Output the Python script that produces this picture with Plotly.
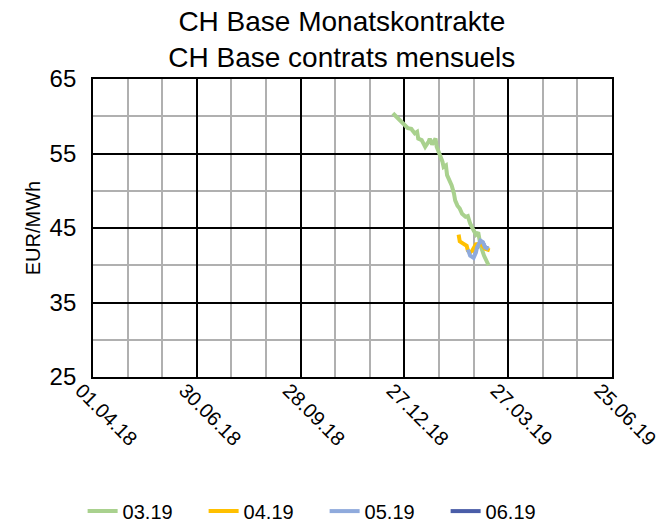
import plotly.graph_objects as go

# ---- data ----
dates_0319 = ["2018-12-17", "2018-12-22", "2018-12-26", "2018-12-30", "2019-01-02", "2019-01-05",
              "2019-01-07", "2019-01-08", "2019-01-11", "2019-01-14", "2019-01-17", "2019-01-18",
              "2019-01-20", "2019-01-23", "2019-01-24", "2019-01-27", "2019-01-29", "2019-01-30",
              "2019-02-01", "2019-02-02", "2019-02-05", "2019-02-06", "2019-02-08", "2019-02-09",
              "2019-02-11", "2019-02-13", "2019-02-15", "2019-02-18", "2019-02-20", "2019-02-22",
              "2019-02-25", "2019-02-27", "2019-03-01", "2019-03-03", "2019-03-06", "2019-03-10"]
vals_0319 = [60.4, 59.7, 59.0, 58.4, 58.3, 57.7,
             57.9, 57.0, 56.8, 55.9, 56.6, 57.0,
             56.2, 57.0, 55.9, 54.8, 53.9, 53.2,
             53.4, 52.1, 51.0, 50.7, 49.6, 48.7,
             48.0, 47.6, 46.9, 46.5, 46.6, 45.6,
             44.7, 44.1, 44.4, 42.7, 41.3, 40.0]

dates_0419 = ["2019-02-12", "2019-02-13", "2019-02-16", "2019-02-19", "2019-02-20", "2019-02-22",
              "2019-02-24", "2019-02-27", "2019-03-03", "2019-03-07", "2019-03-11"]
vals_0419 = [44.1, 43.2, 42.9, 42.6, 42.0, 41.7, 42.0, 42.8, 42.9, 42.2, 42.0]

dates_0519 = ["2019-02-20", "2019-02-22", "2019-02-25", "2019-02-27", "2019-02-28", "2019-03-03",
              "2019-03-05", "2019-03-07", "2019-03-10"]
vals_0519 = [42.1, 41.3, 41.0, 41.7, 42.4, 43.3, 43.1, 42.4, 42.2]

dates_0619 = ["2019-02-28", "2019-03-03", "2019-03-05", "2019-03-07", "2019-03-10"]
vals_0619 = [42.3, 43.2, 43.0, 42.4, 42.2]

series_names = ["03.19", "04.19", "05.19", "06.19"]
series_colors = ["#A9D18E", "#FFC000", "#8FAADC", "#4A5DA8"]

x_start = "2018-04-01"
x_end = "2019-06-25"
DAY_MS = 86400000

FONT = "Liberation Sans, Arial, sans-serif"

fig = go.Figure()
data = [(dates_0319, vals_0319), (dates_0419, vals_0419), (dates_0519, vals_0519), (dates_0619, vals_0619)]
draw_order = [3, 0, 1, 2]
for i in draw_order:
    d, v = data[i]
    fig.add_trace(go.Scatter(x=d, y=v, mode="lines", name=series_names[i],
                             line=dict(color=series_colors[i], width=4),
                             legendrank=i + 1))

fig.update_layout(
    width=665, height=525,
    margin=dict(l=93, r=53, t=79, b=148, autoexpand=False),
    paper_bgcolor="white", plot_bgcolor="white",
    font=dict(family=FONT, color="#000000", size=20),
    title=dict(text="CH Base Monatskontrakte<br>CH Base contrats mensuels",
               x=0.514, xanchor="center", y=0.941, yanchor="middle",
               font=dict(size=28, family=FONT, color="#000000")),
    showlegend=True,
    legend=dict(orientation="h", x=-0.02, xanchor="left", y=-0.45, yanchor="middle",
                entrywidth=76, entrywidthmode="pixels",
                font=dict(size=20, family=FONT), traceorder="normal"),
)

fig.update_xaxes(
    type="date", range=[x_start, x_end], automargin=False,
    tick0=x_start, dtick=90 * DAY_MS, tickformat="%d.%m.%y",
    tickangle=45, tickfont=dict(size=20, family=FONT),
    ticklabelshift=-12, ticklabelstandoff=-8, ticklabeloverflow="allow",
    showgrid=True, gridcolor="#000000", gridwidth=1.5,
    minor=dict(tick0=x_start, dtick=30 * DAY_MS, showgrid=True, gridcolor="#B0B0B0", gridwidth=1.5),
    showline=True, linecolor="#000000", linewidth=1.8, mirror=True,
    ticks="", zeroline=False,
)
fig.update_yaxes(
    range=[25, 65], dtick=10, tick0=25, automargin=False,
    tickfont=dict(size=24, family=FONT),
    title=dict(text="EUR/MWh", font=dict(size=20, family=FONT), standoff=4),
    showgrid=True, gridcolor="#000000", gridwidth=1.5,
    minor=dict(dtick=5, showgrid=True, gridcolor="#B0B0B0", gridwidth=1.5),
    showline=True, linecolor="#000000", linewidth=1.8, mirror=True,
    ticks="", zeroline=False, ticklabelstandoff=10,
)

fig.write_html("out.html", config={"displayModeBar": False},
               post_script="document.body.style.margin='0';document.body.style.overflow='hidden';")
